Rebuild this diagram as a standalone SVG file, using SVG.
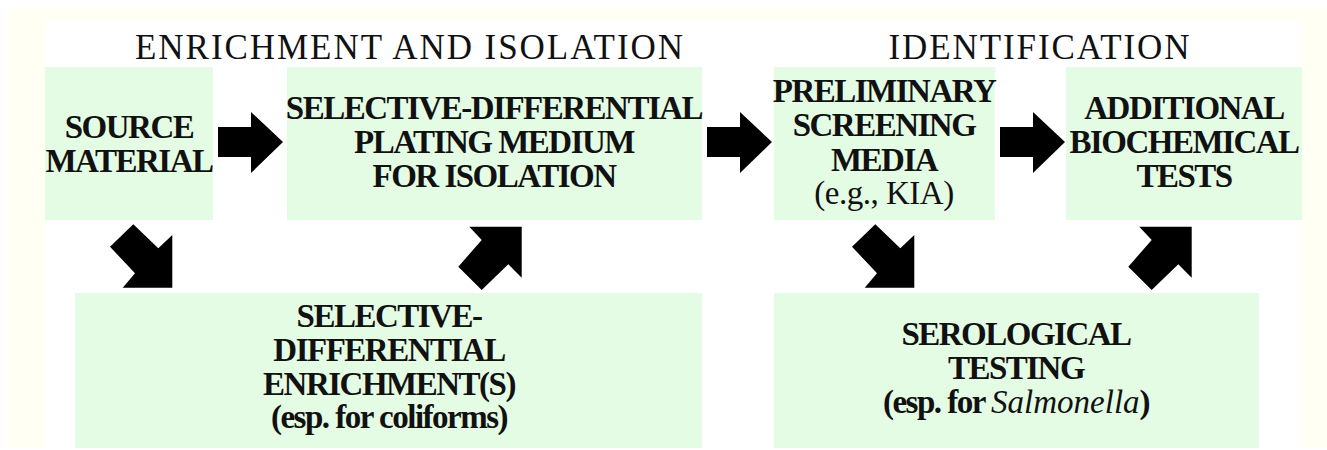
<svg xmlns="http://www.w3.org/2000/svg" width="1327" height="450" viewBox="0 0 1327 450">
<style>
.box{fill:#e4fbe4}
.t{font-family:'Liberation Serif','DejaVu Serif',serif;font-weight:bold;font-size:33px;letter-spacing:-1.5px;fill:#111;text-anchor:middle}
.n{font-weight:normal;letter-spacing:-0.5px}
.h{font-family:'Liberation Serif','DejaVu Serif',serif;font-size:35px;fill:#111;text-anchor:middle}
.arr{fill:#000}
</style>
<defs>
<polygon id="ar" points="0,15 33,15 33,0 65,30 33,61 33,45 0,45"/>
<polygon id="dr" points="133.3,224.3 158.3,248.3 172.3,235 172.3,287.7 122.7,287.7 135,273.3 110,246.7"/>
<polygon id="ur" points="521.7,226.7 469.3,226.7 481.7,240 458.3,266.7 481.7,290 508.3,264.3 521.7,277.7"/>
</defs>
<rect x="0" y="0" width="1327" height="450" fill="#fff"/>
<rect x="8" y="8" width="1319" height="440" fill="#fffff3"/>
<rect x="45" y="22" width="1257" height="426" fill="#fff"/>
<g id="headings">
<text class="h" x="409" y="59" textLength="548" lengthAdjust="spacing">ENRICHMENT AND ISOLATION</text>
<text class="h" x="1039" y="59" textLength="301" lengthAdjust="spacing">IDENTIFICATION</text>
</g>
<g id="source">
<rect class="box" x="45" y="67" width="168" height="153"/>
<text class="t" x="129" y="138">SOURCE</text>
<text class="t" x="129" y="172">MATERIAL</text>
</g>
<g id="plating">
<rect class="box" x="287" y="67" width="415" height="153"/>
<text class="t" x="494" y="119">SELECTIVE-DIFFERENTIAL</text>
<text class="t" x="494" y="153">PLATING MEDIUM</text>
<text class="t" x="494" y="187">FOR ISOLATION</text>
</g>
<g id="preliminary">
<rect class="box" x="774" y="67" width="221" height="153"/>
<text class="t" x="884" y="102">PRELIMINARY</text>
<text class="t" x="884" y="136">SCREENING</text>
<text class="t" x="884" y="171">MEDIA</text>
<text class="t n" x="884" y="204">(e.g., KIA)</text>
</g>
<g id="additional">
<rect class="box" x="1066" y="67" width="236" height="153"/>
<text class="t" x="1184" y="119">ADDITIONAL</text>
<text class="t" x="1184" y="153">BIOCHEMICAL</text>
<text class="t" x="1184" y="187">TESTS</text>
</g>
<g id="enrichment">
<rect class="box" x="75" y="293" width="627" height="155"/>
<text class="t" x="389" y="327">SELECTIVE-</text>
<text class="t" x="389" y="361">DIFFERENTIAL</text>
<text class="t" x="389" y="395">ENRICHMENT(S)</text>
<text class="t" x="389" y="428">(esp. for coliforms)</text>
</g>
<g id="serological">
<rect class="box" x="774" y="293" width="485" height="155"/>
<text class="t" x="1016" y="345">SEROLOGICAL</text>
<text class="t" x="1016" y="379">TESTING</text>
<text class="t" x="1016" y="413">(esp. for <tspan font-style="italic" font-weight="normal" letter-spacing="0">Salmonella</tspan>)</text>
</g>
<g id="connectors" class="arr">
<use href="#ar" x="218" y="112"/>
<use href="#ar" x="707" y="112"/>
<use href="#ar" x="1000" y="112"/>
<use href="#dr"/>
<use href="#ur"/>
<use href="#dr" x="742"/>
<use href="#ur" x="670"/>
</g>
</svg>
